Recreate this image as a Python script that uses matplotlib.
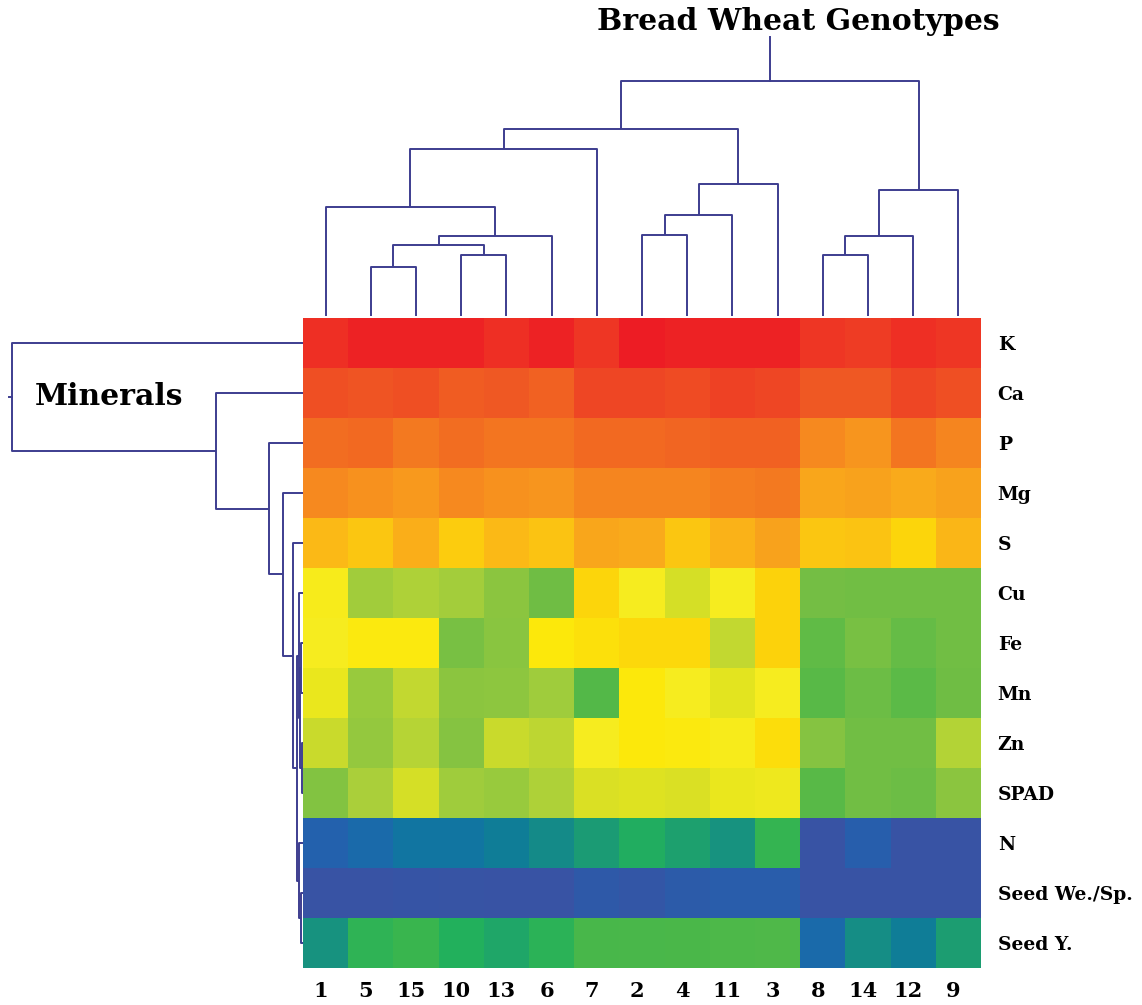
import numpy as np
import matplotlib
matplotlib.use('Agg')
import matplotlib.pyplot as plt
from matplotlib.colors import LinearSegmentedColormap
from matplotlib.transforms import ScaledTranslation

# ---------------- data ----------------
genotypes = ['1', '5', '15', '10', '13', '6', '7', '2', '4', '11', '3', '8', '14', '12', '9']
traits = ['K', 'Ca', 'P', 'Mg', 'S', 'Cu', 'Fe', 'Mn', 'Zn', 'SPAD', 'N', 'Seed We./Sp.', 'Seed Y.']

K_vals = [0.988, 0.993, 0.993, 0.994, 0.987, 0.993, 0.982, 1.0, 0.993, 0.996, 0.993, 0.981, 0.979, 0.985, 0.982]
Ca_vals = [0.964, 0.960, 0.961, 0.950, 0.957, 0.948, 0.971, 0.971, 0.968, 0.974, 0.972, 0.955, 0.955, 0.972, 0.962]
P_vals = [0.936, 0.938, 0.925, 0.934, 0.929, 0.929, 0.940, 0.940, 0.944, 0.946, 0.948, 0.907, 0.897, 0.927, 0.912]
Mg_vals = [0.907, 0.899, 0.893, 0.907, 0.901, 0.897, 0.912, 0.912, 0.912, 0.919, 0.922, 0.881, 0.886, 0.877, 0.884]
S_vals = [0.863, 0.844, 0.874, 0.838, 0.860, 0.851, 0.879, 0.877, 0.847, 0.870, 0.884, 0.844, 0.851, 0.826, 0.866]
Cu_vals = [0.785, 0.634, 0.660, 0.640, 0.595, 0.545, 0.828, 0.780, 0.720, 0.780, 0.830, 0.552, 0.550, 0.550, 0.550]
Fe_vals = [0.780, 0.795, 0.795, 0.562, 0.590, 0.800, 0.810, 0.822, 0.822, 0.690, 0.830, 0.520, 0.560, 0.530, 0.550]
Mn_vals = [0.755, 0.620, 0.690, 0.595, 0.600, 0.630, 0.500, 0.800, 0.780, 0.745, 0.780, 0.510, 0.540, 0.515, 0.545]
Zn_vals = [0.700, 0.612, 0.670, 0.585, 0.700, 0.680, 0.780, 0.800, 0.795, 0.785, 0.815, 0.585, 0.550, 0.550, 0.665]
SPAD_vals = [0.580, 0.650, 0.720, 0.630, 0.620, 0.660, 0.730, 0.735, 0.730, 0.755, 0.765, 0.510, 0.550, 0.540, 0.595]
N_vals = [0.085, 0.120, 0.170, 0.170, 0.210, 0.250, 0.310, 0.370, 0.325, 0.280, 0.420, 0.000, 0.070, 0.000, 0.000]
SeedWe_vals = [0.000, 0.000, 0.010, 0.005, 0.000, 0.000, 0.040, 0.020, 0.050, 0.060, 0.060, 0.000, 0.000, 0.000, 0.000]
SeedY_vals = [0.280, 0.410, 0.430, 0.380, 0.345, 0.400, 0.470, 0.475, 0.480, 0.485, 0.490, 0.120, 0.260, 0.210, 0.320]

# column (genotype) clustering: (left, right, merge height); ints refer to earlier merges
col_merges = [('5', '15', 49), ('10', '13', 61), (0, 1, 71), (2, '6', 80), ('1', 3, 109),
              (4, '7', 167), ('2', '4', 81), (6, '11', 101), (7, '3', 132), (5, 8, 187),
              ('8', '14', 61), (10, '12', 80), (11, '9', 126), (9, 12, 235)]
col_root_stem = 279

# row (trait) clustering
row_merges = [('Zn', 'SPAD', 1.5), ('Fe', 'Mn', 2.0), (1, 0, 3.0), ('Cu', 2, 4.5),
              ('Seed We./Sp.', 'Seed Y.', 2.5), ('N', 4, 4.0), (3, 5, 6.0), ('S', 6, 10),
              ('Mg', 7, 20), ('P', 8, 34), ('Ca', 9, 87), ('K', 10, 291)]
row_root_stem = 294

# colour scale anchors
cmap_stops = [0.00, 0.08, 0.14, 0.20, 0.26, 0.32, 0.38, 0.44, 0.50, 0.55, 0.60, 0.65, 0.70,
              0.75, 0.78, 0.80, 0.83, 0.86, 0.88, 0.90, 0.92, 0.94, 0.96, 0.98, 1.00]
cmap_colors = ['#3853a4', '#2460ad', '#1470a8', '#0e7b9a', '#158d85', '#1c9e70', '#22b05c',
               '#3db64c', '#52b848', '#72be44', '#8dc63f', '#a9cf3a', '#c8da2d', '#e6e51d',
               '#f6ec1f', '#fce80b', '#fcd30b', '#fbbc15', '#f9a91b', '#f7931e', '#f47f20',
               '#f26a21', '#ef5523', '#ee3d24', '#ed1c24']

data = np.array([K_vals, Ca_vals, P_vals, Mg_vals, S_vals, Cu_vals, Fe_vals, Mn_vals,
                 Zn_vals, SPAD_vals, N_vals, SeedWe_vals, SeedY_vals])

cmap = LinearSegmentedColormap.from_list('bgyr', list(zip(cmap_stops, cmap_colors)))
LINE = '#3d3d8f'
FONT = 'DejaVu Serif'

W, H = 1142, 1005
fig = plt.figure(figsize=(W / 100, H / 100), dpi=100)


def frac(x0, y0, x1, y1):
    return [x0 / W, 1 - y1 / H, (x1 - x0) / W, (y1 - y0) / H]


hx0, hy0, hx1, hy1 = 303, 318, 981, 968
ax_heat = fig.add_axes(frac(hx0, hy0, hx1, hy1))
ax_top = fig.add_axes(frac(hx0, 30, hx1, 316))
ax_left = fig.add_axes(frac(5, hy0, hx0, hy1))

ax_heat.pcolormesh(np.arange(len(genotypes) + 1), np.arange(len(traits) + 1), data,
                   cmap=cmap, vmin=0, vmax=1, shading='flat')
ax_heat.set_xlim(0, len(genotypes))
ax_heat.set_ylim(len(traits), 0)
for s in ax_heat.spines.values():
    s.set_visible(False)
ax_heat.set_xticks(np.arange(len(genotypes)) + 0.5)
ax_heat.set_xticklabels(genotypes, fontsize=15, fontweight='bold', family=FONT)
ax_heat.set_yticks(np.arange(len(traits)) + 0.5)
ax_heat.set_yticklabels(traits, fontsize=13.5, fontweight='bold', family=FONT)
ax_heat.yaxis.tick_right()
ax_heat.tick_params(axis='both', length=0)
ax_heat.tick_params(axis='x', pad=9)
ax_heat.tick_params(axis='y', pad=12)
shift = ScaledTranslation(-5 / 100, 0, fig.dpi_scale_trans)
for lab in ax_heat.get_xticklabels():
    lab.set_transform(lab.get_transform() + shift)


def draw_dendro(ax, merges, order, stem, vertical):
    pos = {leaf: i + 0.5 for i, leaf in enumerate(order)}
    nodes = []

    def get(ref):
        if isinstance(ref, int):
            return nodes[ref]
        return pos[ref], 0.0

    for a, b, h in merges:
        pa, ha = get(a)
        pb, hb = get(b)
        p = [pa, pa, pb, pb]
        hh = [ha, h, h, hb]
        if vertical:
            ax.plot(p, hh, color=LINE, lw=1.4, solid_capstyle='butt')
        else:
            ax.plot(hh, p, color=LINE, lw=1.4, solid_capstyle='butt')
        nodes.append(((pa + pb) / 2, h))
    rp, rh = nodes[-1]
    if vertical:
        ax.plot([rp, rp], [rh, stem], color=LINE, lw=1.4)
    else:
        ax.plot([rh, stem], [rp, rp], color=LINE, lw=1.4)
    ax.axis('off')


draw_dendro(ax_top, col_merges, genotypes, col_root_stem, True)
ax_top.set_xlim(0, len(genotypes))
ax_top.set_ylim(0, 286)

draw_dendro(ax_left, row_merges, traits, row_root_stem, False)
ax_left.set_xlim(298, 0)
ax_left.set_ylim(len(traits), 0)

fig.text(798 / W, 1 - 22 / H, 'Bread Wheat Genotypes', ha='center', va='center',
         fontsize=21.5, fontweight='bold', family=FONT)
fig.text(35 / W, 1 - 396 / H, 'Minerals', ha='left', va='center',
         fontsize=21.5, fontweight='bold', family=FONT)

fig.savefig('out.png', dpi=100)
